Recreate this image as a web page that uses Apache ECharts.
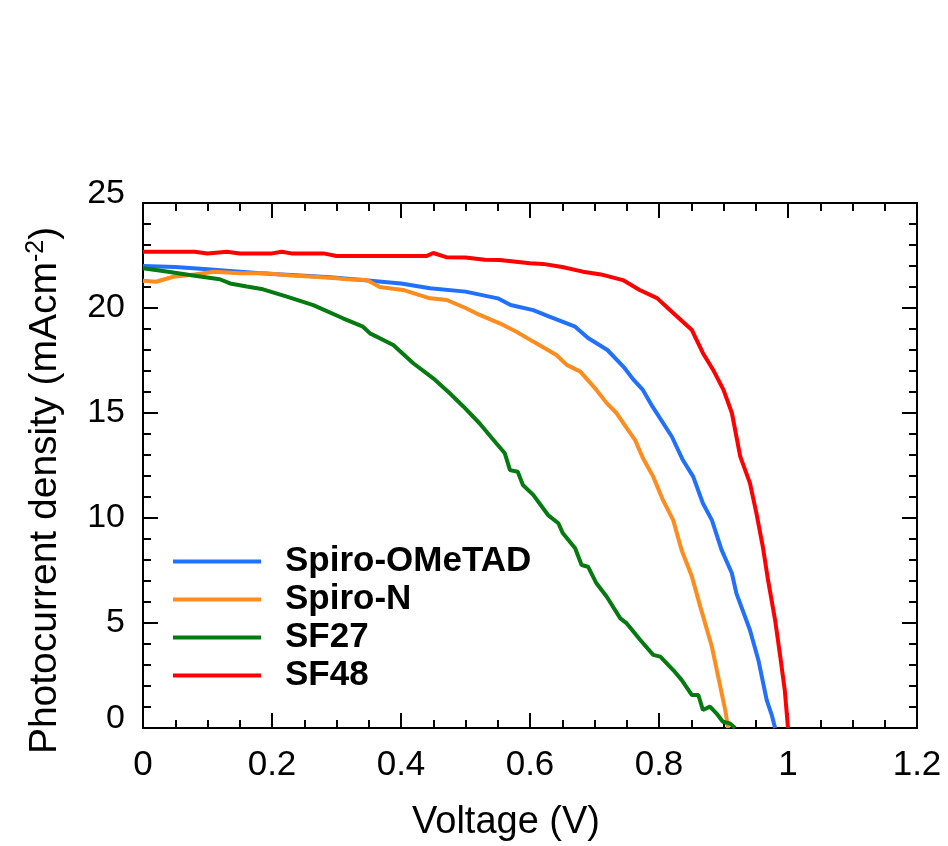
<!DOCTYPE html>
<html>
<head>
<meta charset="utf-8">
<script src="https://cdn.jsdelivr.net/npm/echarts@6/dist/echarts.min.js"></script>
<style>html,body{margin:0;padding:0;background:#fff}#c{width:948px;height:846px}</style>
</head>
<body>
<div id="c"></div>
<script>
var seriesNames = ['Spiro-OMeTAD', 'Spiro-N', 'SF27', 'SF48'];
var xTicks = [0, 0.2, 0.4, 0.6, 0.8, 1, 1.2];
var yTicks = [0, 5, 10, 15, 20, 25];

var spiroV = [0, 0.05, 0.1, 0.15, 0.2, 0.23, 0.29, 0.34, 0.4, 0.445, 0.5, 0.55, 0.57, 0.605, 0.63, 0.67, 0.69, 0.72, 0.745, 0.76, 0.775, 0.79, 0.82, 0.837, 0.853, 0.868, 0.882, 0.897, 0.913, 0.92, 0.941, 0.954, 0.967, 0.975, 0.98];
var spiroJ = [22.0, 21.95, 21.84, 21.73, 21.62, 21.57, 21.46, 21.33, 21.17, 20.94, 20.78, 20.46, 20.14, 19.9, 19.59, 19.11, 18.57, 18.0, 17.2, 16.6, 16.1, 15.3, 13.87, 12.76, 11.97, 10.7, 9.9, 8.48, 7.37, 6.41, 4.67, 3.24, 1.33, 0.6, 0];

var spiroNV = [0, 0.02, 0.047, 0.08, 0.11, 0.15, 0.19, 0.23, 0.265, 0.3, 0.316, 0.347, 0.367, 0.403, 0.445, 0.471, 0.5, 0.522, 0.553, 0.579, 0.605, 0.641, 0.657, 0.678, 0.703, 0.719, 0.734, 0.75, 0.763, 0.775, 0.791, 0.806, 0.822, 0.835, 0.851, 0.864, 0.882, 0.895, 0.903, 0.907];
var spiroNJ = [21.3, 21.25, 21.49, 21.6, 21.73, 21.65, 21.65, 21.55, 21.49, 21.42, 21.37, 21.33, 21.0, 20.86, 20.46, 20.38, 20.0, 19.67, 19.27, 18.87, 18.4, 17.76, 17.29, 16.97, 16.1, 15.47, 15.0, 14.28, 13.71, 12.86, 11.97, 10.86, 9.9, 8.48, 7.21, 5.78, 3.87, 1.97, 0.8, 0];

var sf27V = [0, 0.031, 0.083, 0.119, 0.135, 0.161, 0.186, 0.223, 0.264, 0.31, 0.341, 0.352, 0.388, 0.419, 0.45, 0.476, 0.497, 0.522, 0.548, 0.561, 0.569, 0.581, 0.589, 0.605, 0.628, 0.644, 0.651, 0.67, 0.68, 0.69, 0.703, 0.719, 0.74, 0.75, 0.771, 0.791, 0.802, 0.822, 0.835, 0.851, 0.861, 0.868, 0.879, 0.889, 0.899, 0.91, 0.918];
var sf27J = [21.89, 21.76, 21.52, 21.37, 21.17, 21.02, 20.89, 20.54, 20.14, 19.51, 19.11, 18.79, 18.24, 17.37, 16.65, 15.93, 15.3, 14.5, 13.55, 13.08, 12.28, 12.2, 11.57, 11.1, 10.14, 9.75, 9.27, 8.56, 7.76, 7.68, 6.89, 6.25, 5.22, 4.98, 4.19, 3.48, 3.4, 2.76, 2.29, 1.57, 1.57, 0.86, 1.02, 0.7, 0.3, 0.22, 0];

var sf48V = [0, 0.08, 0.1, 0.13, 0.15, 0.2, 0.215, 0.23, 0.28, 0.3, 0.44, 0.45, 0.47, 0.5, 0.53, 0.553, 0.6, 0.62, 0.65, 0.682, 0.71, 0.744, 0.77, 0.797, 0.822, 0.851, 0.868, 0.884, 0.9, 0.913, 0.926, 0.941, 0.951, 0.961, 0.969, 0.98, 0.988, 0.995, 1.0];
var sf48J = [22.68, 22.68, 22.6, 22.68, 22.6, 22.6, 22.68, 22.6, 22.6, 22.48, 22.48, 22.62, 22.42, 22.4, 22.3, 22.29, 22.13, 22.1, 21.95, 21.73, 21.6, 21.33, 20.86, 20.47, 19.76, 18.95, 17.86, 17.05, 16.1, 15.0, 12.92, 11.66, 10.23, 8.63, 7.05, 5.14, 3.4, 1.8, 0];

var colors = ['#2170FF', '#FF8C1F', '#057A10', '#FF0000'];
var FONT = '"Liberation Sans", Arial, Helvetica, sans-serif';
var yMin = yTicks[0], yMax = yTicks[yTicks.length - 1];

function pairs(xs, ys) { return xs.map(function (x, i) { return [x, ys[i]]; }); }
var allData = [pairs(spiroV, spiroJ), pairs(spiroNV, spiroNJ), pairs(sf27V, sf27J), pairs(sf48V, sf48J)];

function xAxisDef(pos, showLabel) {
  return {
    type: 'value', position: pos, min: xTicks[0], max: xTicks[xTicks.length - 1], interval: 0.2,
    axisLine: { show: true, onZero: false, lineStyle: { color: '#000', width: 2 } },
    axisTick: { show: true, inside: true, length: 15, lineStyle: { color: '#000', width: 2 } },
    minorTick: { show: true, splitNumber: 4, length: 8, lineStyle: { color: '#000', width: 2 } },
    splitLine: { show: false },
    axisLabel: { show: showLabel, color: '#000', fontSize: 35, fontFamily: FONT, margin: 20 },
    name: showLabel ? 'Voltage (V)' : '', nameLocation: 'middle', nameGap: 76,
    nameTextStyle: { color: '#000', fontSize: 38, fontFamily: FONT, padding: [0, 48, 0, 0] }
  };
}
function yAxisDef(pos, showLabel) {
  return {
    type: 'value', position: pos, min: yMin, max: yMax, interval: 5,
    axisLine: { show: true, onZero: false, lineStyle: { color: '#000', width: 2 } },
    axisTick: { show: true, inside: true, length: 15, lineStyle: { color: '#000', width: 2 } },
    minorTick: { show: true, splitNumber: 5, length: 8, lineStyle: { color: '#000', width: 2 } },
    splitLine: { show: false },
    axisLabel: {
      show: showLabel, color: '#000', fontSize: 34, fontFamily: FONT, margin: 18,
      formatter: function (v) { return (v === yMin || v === yMax) ? '' : String(v); }
    },
    name: showLabel ? '{a|Photocurrent density (mAcm}{s|-2}{a|)}' : '', nameLocation: 'middle', nameGap: 76,
    nameTextStyle: {
      color: '#000', fontSize: 39, fontFamily: FONT, padding: [0, 50, 0, 0],
      rich: {
        a: { fontSize: 39, fontFamily: FONT, color: '#000' },
        s: { fontSize: 25, fontFamily: FONT, color: '#000', verticalAlign: 'top', padding: [0, 0, 18, 0] }
      }
    }
  };
}
// extra label-only axis for the end labels (0 and 25), which sit slightly above their ticks
var endLabelAxis = {
  type: 'value', position: 'left', min: yMin, max: yMax, interval: 5,
  axisLine: { show: false }, axisTick: { show: false }, minorTick: { show: false }, splitLine: { show: false },
  axisLabel: {
    show: true, color: '#000', fontSize: 34, fontFamily: FONT, margin: 18, verticalAlign: 'bottom', lineHeight: 19,
    formatter: function (v) { return (v === yMin || v === yMax) ? String(v) : ''; }
  }
};

var chart = echarts.init(document.getElementById('c'), null, { renderer: 'canvas' });
chart.setOption({
  animation: false,
  backgroundColor: '#fff',
  grid: { left: 143, right: 31, top: 203, bottom: 118, containLabel: false, outerBoundsMode: 'none' },
  xAxis: [xAxisDef('bottom', true), xAxisDef('top', false)],
  yAxis: [yAxisDef('left', true), yAxisDef('right', false), endLabelAxis],
  legend: {
    orient: 'vertical', left: 168, top: 539, icon: 'rect', itemWidth: 88, itemHeight: 4, itemGap: 3,
    data: seriesNames,
    textStyle: { color: '#000', fontSize: 35, fontWeight: 'bold', fontFamily: FONT, lineHeight: 35, padding: [0, 0, 0, 19] }
  },
  series: seriesNames.map(function (n, i) {
    return {
      name: n, type: 'line', data: allData[i], xAxisIndex: 0, yAxisIndex: 0,
      showSymbol: false, symbol: 'none', smooth: false, clip: true,
      lineStyle: { color: colors[i], width: 4 }, itemStyle: { color: colors[i] }
    };
  })
});
</script>
</body>
</html>
